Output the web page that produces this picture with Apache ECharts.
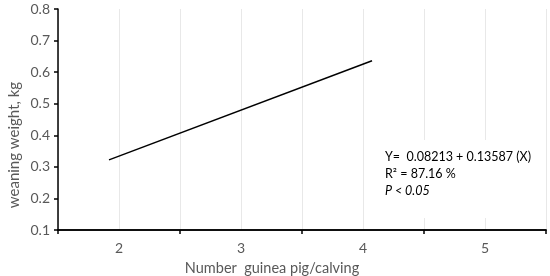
<!DOCTYPE html>
<html>
<head>
<meta charset="utf-8">
<script src="https://cdn.jsdelivr.net/npm/echarts@6/dist/echarts.min.js"></script>
<style>
  html, body { margin: 0; padding: 0; background: #fff; }
  #chart { width: 550px; height: 276px; }
</style>
</head>
<body>
<div id="chart"></div>
<script>
// regression line endpoints
const lineX = [1.918, 4.074]
const lineY = [0.322, 0.636]
const xTickLabels = [2, 3, 4, 5]
const yTickLabels = [0.1, 0.2, 0.3, 0.4, 0.5, 0.6, 0.7, 0.8]
const equationLines = ['Y=  0.08213 + 0.13587 (X)', 'R\u00b2 = 87.16 %']
const pText = 'P < 0.05'

const font = 'Lato, "Open Sans", sans-serif'
const grey = '#595959'

const chart = echarts.init(document.getElementById('chart'))
const option = {
  animation: false,
  grid: { left: 58, right: 4, top: 9, bottom: 46 },
  xAxis: [
    {
      type: 'value',
      min: 1.5,
      max: 5.5,
      interval: 0.5,
      axisLine: { show: true, lineStyle: { color: '#000', width: 1.5 } },
      axisTick: { show: false },
      splitLine: { show: true, lineStyle: { color: '#e8e8e8' } },
      axisLabel: {
        color: grey,
        fontFamily: font,
        fontSize: 14,
        margin: 11,
        formatter: v => (xTickLabels.indexOf(v) >= 0 ? String(v) : '')
      }
    },
    {
      type: 'value',
      position: 'bottom',
      min: 1.5,
      max: 5.5,
      interval: 1,
      axisLine: { show: true, lineStyle: { color: '#000', width: 1.5 } },
      axisTick: { show: true, length: 4, lineStyle: { color: '#000', width: 1.5 } },
      axisLabel: { show: false },
      splitLine: { show: false }
    }
  ],
  yAxis: {
    type: 'value',
    min: 0.1,
    max: 0.8,
    interval: 0.1,
    axisLine: { show: true, lineStyle: { color: '#000', width: 1.5 } },
    axisTick: { show: true, length: 4, lineStyle: { color: '#000', width: 1.5 } },
    splitLine: { show: false },
    axisLabel: {
      color: grey,
      fontFamily: font,
      fontSize: 14,
      margin: 8,
      formatter: v => {
        const m = yTickLabels.find(t => Math.abs(t - v) < 1e-6)
        return m !== undefined ? m.toFixed(1) : ''
      }
    }
  },
  series: [
    {
      type: 'line',
      xAxisIndex: 0,
      data: lineX.map((x, i) => [x, lineY[i]]),
      symbol: 'none',
      lineStyle: { color: '#000', width: 1.5 }
    }
  ],
  graphic: [
    {
      type: 'text',
      x: 14,
      y: 145,
      rotation: Math.PI / 2,
      style: {
        text: 'weaning weight, kg',
        fill: grey,
        font: '15px ' + font,
        align: 'center',
        verticalAlign: 'middle'
      }
    },
    {
      type: 'text',
      x: 272,
      y: 268,
      style: {
        text: 'Number  guinea pig/calving',
        fill: grey,
        font: '14.5px ' + font,
        align: 'center',
        verticalAlign: 'middle'
      }
    },
    // white box behind the equation, hides the gridlines there
    {
      type: 'rect',
      shape: { x: 372, y: 140, width: 168, height: 78 },
      style: { fill: '#fff' },
      z: 1
    },
    {
      type: 'text',
      x: 385,
      y: 157,
      z: 2,
      style: {
        text: equationLines[0],
        fill: '#000',
        font: '12.5px ' + font,
        verticalAlign: 'middle'
      }
    },
    {
      type: 'text',
      x: 385,
      y: 174,
      z: 2,
      style: {
        text: equationLines[1],
        fill: '#000',
        font: '12.5px ' + font,
        verticalAlign: 'middle'
      }
    },
    {
      type: 'text',
      x: 385,
      y: 191,
      z: 2,
      style: {
        text: pText,
        fill: '#000',
        font: 'italic 12.5px ' + font,
        verticalAlign: 'middle'
      }
    }
  ]
}
chart.setOption(option)
</script>
</body>
</html>
